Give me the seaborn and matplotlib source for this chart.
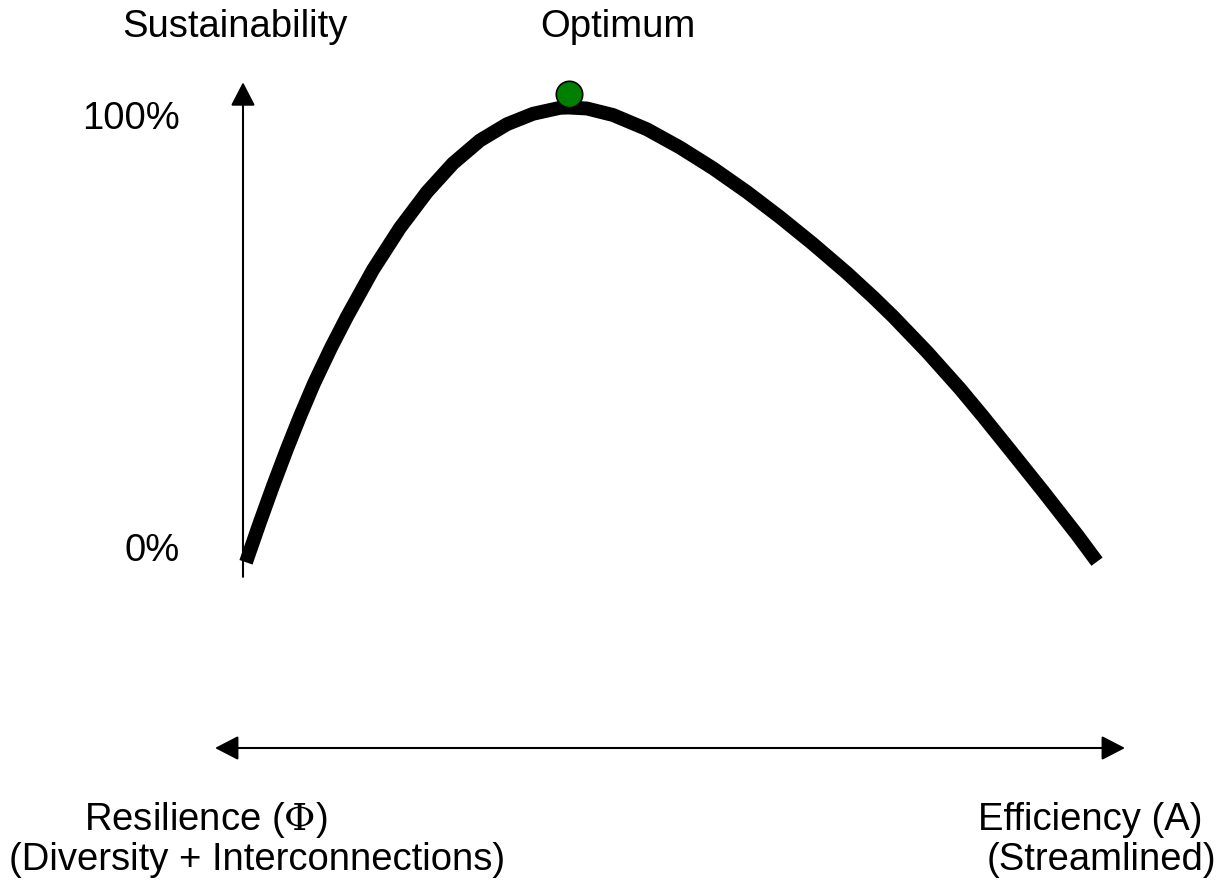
import matplotlib
matplotlib.use("Agg")
import matplotlib.pyplot as plt
import seaborn as sns
import pandas as pd

# Curve: efficiency share (0..1) vs sustainability (%)
efficiency = [0.0035, 0.0199, 0.0351, 0.0515, 0.0667, 0.0831, 0.1030, 0.1218,
              0.1522, 0.1838, 0.2155, 0.2459, 0.2775, 0.3091, 0.3396, 0.3712,
              0.3806, 0.4028, 0.4333, 0.4731, 0.5117, 0.5504, 0.5902, 0.6288,
              0.6674, 0.7073, 0.7377, 0.7611, 0.8009, 0.8396, 0.8665, 0.8981,
              0.9368, 0.9766, 1.0000]
sustainability = [-0.5, 8.35, 16.26, 24.40, 31.54, 38.79, 46.64, 53.49,
                  63.78, 72.99, 80.88, 87.16, 92.22, 95.78, 98.07, 99.38,
                  99.45, 99.23, 97.80, 94.66, 90.66, 86.09, 80.86, 75.34,
                  69.47, 63.05, 57.80, 53.54, 45.76, 37.63, 31.56, 24.20,
                  15.12, 5.56, -0.37]
optimum_x = [0.382]
optimum_y = [102.4]
tick_values = [97, 2]
tick_labels = ["100%", "0%"]

df = pd.DataFrame({"efficiency": efficiency, "sustainability": sustainability})

sns.set_style("white")
plt.rcParams['font.family'] = ['Liberation Sans', 'DejaVu Sans']
plt.rcParams['mathtext.fontset'] = 'dejavuserif'
plt.rcParams['text.color'] = 'black'

fig = plt.figure(figsize=(12.22, 8.86), dpi=100)
ax = fig.add_axes([0, 0, 1, 1])

# pixel-matched data limits
ax.set_xlim(-243 / 854, (1222 - 243) / 854)
ax.set_ylim((560 - 886) / 455 * 100, 560 / 455 * 100)
ax.axis('off')

sns.lineplot(data=df, x="efficiency", y="sustainability", color="black",
             linewidth=10, sort=False, ax=ax, solid_capstyle='butt',
             solid_joinstyle='round', zorder=3)

ax.plot(optimum_x, optimum_y, 'o', color='#008000', markersize=19,
        markeredgecolor='black', markeredgewidth=1.2, zorder=5)

hl, hw = 1.45, 0.75
# vertical axis arrow
ax.annotate("", xy=(0, 105.0), xytext=(0, -3.7),
            arrowprops=dict(arrowstyle=f"-|>,head_length={hl},head_width={hw}",
                            color="black", lw=1.5, shrinkA=0, shrinkB=0),
            zorder=1)
# horizontal axis arrow (both ways)
y_h = (560 - 748) / 455 * 100
ax.annotate("", xy=(-28 / 854, y_h), xytext=((1125 - 243) / 854, y_h),
            arrowprops=dict(arrowstyle=f"<|-|>,head_length={hl},head_width={hw}",
                            color="black", lw=1.5, shrinkA=0, shrinkB=0))

fs = 27.5
for v, lab in zip(tick_values, tick_labels):
    ax.text(-63 / 854, v, lab, ha='right', va='center', fontsize=fs)

def px(x, y):
    return (x - 243) / 854, (560 - y) / 455 * 100

ax.text(*px(235, 27), "Sustainability", ha='center', va='center', fontsize=fs)
ax.text(*px(618, 27), "Optimum", ha='center', va='center', fontsize=fs)
ax.text(*px(206, 820), r"Resilience ($\Phi$)", ha='center', va='center', fontsize=fs)
ax.text(*px(257, 860), "(Diversity + Interconnections)", ha='center', va='center', fontsize=fs)
ax.text(*px(1090, 820), "Efficiency (A)", ha='center', va='center', fontsize=fs)
ax.text(*px(1101, 860), "(Streamlined)", ha='center', va='center', fontsize=fs)

fig.savefig("out.png", dpi=100)
